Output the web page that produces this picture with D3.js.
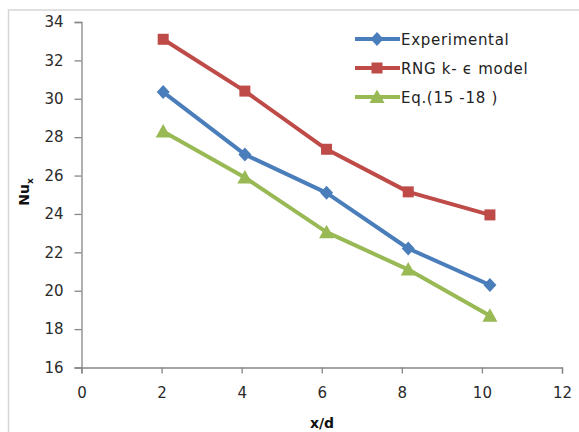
<!DOCTYPE html>
<html>
<head>
<meta charset="utf-8">
<script src="https://cdn.jsdelivr.net/npm/d3@7"></script>
<style>
html,body{margin:0;padding:0;background:#fff;}
svg{display:block;}
</style>
</head>
<body>
<script>
const xd = [2.04, 4.08, 6.12, 8.16, 10.2];
const experimental = [30.35, 27.1, 25.1, 22.2, 20.3];
const rng = [33.1, 30.4, 27.37, 25.15, 23.95];
const eq = [28.3, 25.9, 23.05, 21.1, 18.7];
const seriesNames = ["Experimental", "RNG k- \u03F5 model", "Eq.(15 -18 )"];
const xTicks = [0, 2, 4, 6, 8, 10, 12];
const yTicks = [16, 18, 20, 22, 24, 26, 28, 30, 32, 34];

const W = 579, H = 432;
const svg = d3.select("body").append("svg").attr("width", W).attr("height", H);
svg.append("rect").attr("x", 8.5).attr("y", 10).attr("width", 600).attr("height", 460)
  .attr("fill", "#fff").attr("stroke", "#d6d6d6").attr("stroke-width", 1.5);

const x = d3.scaleLinear().domain([0, 12]).range([81.5, 562]);
const y = d3.scaleLinear().domain([16, 34]).range([367.5, 22]);

const font = "DejaVu Sans, Verdana, sans-serif";
const axisColor = "#868686";

const xAxis = svg.append("g").attr("transform", `translate(0,${y(16)})`)
  .call(d3.axisBottom(x).tickValues(xTicks).tickSize(6).tickPadding(14).tickFormat(d3.format("d")));
const yAxis = svg.append("g").attr("transform", `translate(${x(0)},0)`)
  .call(d3.axisLeft(y).tickValues(yTicks).tickSize(7).tickPadding(11).tickFormat(d3.format("d")));
[xAxis, yAxis].forEach(g => {
  g.select(".domain").attr("stroke", axisColor).attr("stroke-width", 1.3);
  g.selectAll(".tick line").attr("stroke", axisColor).attr("stroke-width", 1.3);
  g.selectAll(".tick text").attr("fill", "#2a2a2a").style("font-family", font).style("font-size", "15px");
});

svg.append("text").attr("x", 322).attr("y", 428).attr("text-anchor", "middle")
  .style("font-family", font).style("font-size", "14px").style("font-weight", "bold").attr("fill", "#111")
  .text("x/d");
const yt = svg.append("text").attr("transform", "translate(29,192) rotate(-90)").attr("text-anchor", "middle")
  .style("font-family", font).style("font-size", "14px").style("font-weight", "bold").attr("fill", "#111");
yt.append("tspan").text("Nu");
yt.append("tspan").attr("dy", 4).style("font-size", "9px").text("x");

const colors = ["#4A7EBB", "#BE4B48", "#98B954"];
const data = [experimental, rng, eq];
const line = d3.line().x((d, i) => x(xd[i])).y(d => y(d));

function marker(g, type, cx, cy, color) {
  if (type === 0) {
    g.append("path").attr("d", `M${cx},${cy-7}L${cx+6.5},${cy}L${cx},${cy+7}L${cx-6.5},${cy}Z`).attr("fill", color);
  } else if (type === 1) {
    g.append("rect").attr("x", cx-5.5).attr("y", cy-5.5).attr("width", 11).attr("height", 11).attr("fill", color);
  } else {
    g.append("path").attr("d", `M${cx},${cy-7.5}L${cx+7.5},${cy+6}L${cx-7.5},${cy+6}Z`).attr("fill", color);
  }
}

data.forEach((vals, k) => {
  const g = svg.append("g");
  g.append("path").datum(vals).attr("d", line).attr("fill", "none")
    .attr("stroke", colors[k]).attr("stroke-width", 4).attr("stroke-linejoin", "round");
  vals.forEach((v, i) => marker(g, k, x(xd[i]), y(v), colors[k]));
});

const legY = [39, 68, 97];
seriesNames.forEach((name, k) => {
  const g = svg.append("g");
  g.append("line").attr("x1", 355).attr("x2", 400).attr("y1", legY[k]).attr("y2", legY[k])
    .attr("stroke", colors[k]).attr("stroke-width", 4);
  marker(g, k, 377, legY[k], colors[k]);
  g.append("text").attr("x", 401).attr("y", legY[k] + 5.5)
    .style("font-family", font).style("font-size", "15px").style("letter-spacing", "0.7px")
    .attr("fill", "#222").text(name);
});
</script>
</body>
</html>
